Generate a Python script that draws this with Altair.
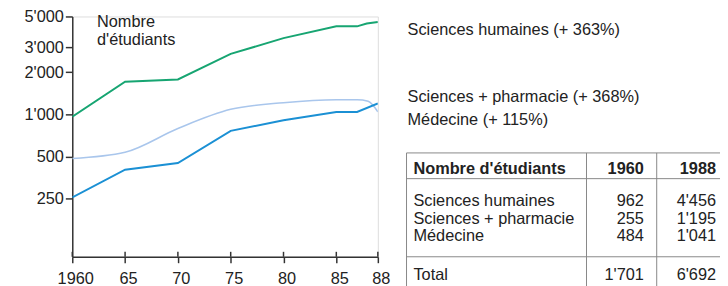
import altair as alt
import pandas as pd

# ---------------- data ----------------
series_names = ["Sciences humaines", "Sciences + pharmacie", "Médecine"]

sh_years = [1960, 1965, 1970, 1975, 1980, 1985, 1986.5, 1987.2, 1988]
sh_values = [962, 1710, 1775, 2700, 3500, 4250, 4250, 4450, 4560]

sp_years = [1960, 1965, 1970, 1975, 1980, 1985, 1986.5, 1988]
sp_values = [255, 402, 449, 762, 907, 1040, 1040, 1195]

med_years = [1960, 1965, 1970, 1975, 1980, 1985, 1986.5, 1987.3, 1988]
med_values = [484, 536, 792, 1085, 1210, 1270, 1270, 1240, 1041]

x_tick_values = [1960, 1965, 1970, 1975, 1980, 1985, 1988]
x_tick_labels = ["1960", "65", "70", "75", "80", "85", "88"]
y_tick_values = [250, 500, 1000, 2000, 3000, 5000]
y_tick_labels = ["250", "500", "1'000", "2'000", "3'000", "5'000"]

axis_title_lines = ["Nombre", "d'étudiants"]
right_labels = ["Sciences humaines (+ 363%)", "Sciences + pharmacie (+ 368%)", "Médecine (+ 115%)"]

table_header = ["Nombre d'étudiants", "1960", "1988"]
table_rows = ["Sciences humaines", "Sciences + pharmacie", "Médecine"]
table_1960 = ["962", "255", "484"]
table_1988 = ["4'456", "1'195", "1'041"]
table_total = ["Total", "1'701", "6'692"]

# ---------------- layout ----------------
W, H = 309, 243
FONT = "Liberation Sans"
FS = 16.5
TXT = "#222222"

colors = {"Sciences humaines": "#17a572", "Sciences + pharmacie": "#1b90d4", "Médecine": "#a9c6ec"}

x_scale = alt.Scale(domain=[1960, 1985, 1988], range=[0, 267, W], nice=False, zero=False)
y_scale = alt.Scale(type="log", domain=[96, 5000], nice=False, zero=False)

x_label_expr = " : ".join([f"datum.value == {v} ? '{l}'" for v, l in zip(x_tick_values, x_tick_labels)]) + " : ''"
y_label_expr = " : ".join([f"datum.value == {v} ? \"{l}\"" for v, l in zip(y_tick_values, y_tick_labels)]) + " : ''"


def line_df(name, years, values):
    return pd.DataFrame({"year": years, "value": values, "serie": name})


def line_layer(df, name, width, interp="linear"):
    return alt.Chart(df).mark_line(
        color=colors[name], strokeWidth=width, interpolate=interp, clip=True
    ).encode(
        x=alt.X("year:Q", scale=x_scale,
                axis=alt.Axis(values=x_tick_values, labelExpr=x_label_expr, title=None,
                              domainColor="#333333", domainWidth=1.5, tickColor="#333333",
                              tickWidth=1.5, tickSize=6, labelFontSize=FS, labelFont=FONT,
                              labelColor=TXT, labelPadding=8, labelOffset=3, grid=False,
                              labelFlush=False, labelOverlap=False)),
        y=alt.Y("value:Q", scale=y_scale,
                axis=alt.Axis(values=y_tick_values, labelExpr=y_label_expr, title=None,
                              domainColor="#333333", domainWidth=1.5, tickColor="#333333",
                              tickWidth=1.5, tickSize=7, labelFontSize=FS, labelFont=FONT,
                              labelColor=TXT, labelPadding=2, grid=False, labelFlush=False,
                              labelOverlap=False)),
    )


med = line_layer(line_df("Médecine", med_years, med_values), "Médecine", 1.6, "monotone")
sp = line_layer(line_df("Sciences + pharmacie", sp_years, sp_values), "Sciences + pharmacie", 2)
sh = line_layer(line_df("Sciences humaines", sh_years, sh_values), "Sciences humaines", 2)

# upward part of x ticks (they cross the axis)
tick_up = alt.Chart(pd.DataFrame({"year": x_tick_values})).mark_rule(
    color="#333333", strokeWidth=1.5
).encode(x=alt.X("year:Q", scale=x_scale), y=alt.value(H - 5), y2=alt.value(H))


def text_layer(texts, xs, ys, align="left", bold=False):
    layers = []
    for t, px, py in zip(texts, xs, ys):
        layers.append(
            alt.Chart(pd.DataFrame({"t": [t]})).mark_text(
                align=align, baseline="alphabetic", fontSize=FS, font=FONT, color=TXT,
                fontWeight="bold" if bold else "normal"
            ).encode(text="t:N", x=alt.value(float(px)), y=alt.value(float(py)))
        )
    return layers


OX, OY = 71, 15  # plot origin in page pixels
SHIFT = 2

layers = [med, sp, sh, tick_up]
layers += text_layer(axis_title_lines, [96 - OX] * 2, [25.5 - OY, 44 - OY])
layers += text_layer(right_labels, [410 - OX] * 3, [34 - OY, 101.5 - OY, 124.5 - OY])

# table
row_y = [206.5, 224.5, 242]
layers += text_layer([table_header[0]], [416 - OX], [174 - OY], bold=True)
layers += text_layer([table_header[1]], [649 - OX], [174 - OY], align="right", bold=True)
layers += text_layer([table_header[2]], [722 - OX], [174 - OY], align="right", bold=True)
layers += text_layer(table_rows, [416 - OX] * 3, [y - OY for y in row_y])
layers += text_layer(table_1960, [649 - OX] * 3, [y - OY for y in row_y], align="right")
layers += text_layer(table_1988, [722 - OX] * 3, [y - OY for y in row_y], align="right")
layers += text_layer([table_total[0]], [416 - OX], [281.5 - OY])
layers += text_layer([table_total[1]], [649 - OX], [281.5 - OY], align="right")
layers += text_layer([table_total[2]], [722 - OX], [281.5 - OY], align="right")

grid_col = "#888888"
hlines = [(409, 732, 153), (409, 732, 179), (409, 732, 258)]
vlines = [(409, 153, 290), (591, 153, 290), (662, 153, 290)]
for x1, x2, y in hlines:
    layers.append(alt.Chart(pd.DataFrame({"a": [0]})).mark_rule(color=grid_col, strokeWidth=1).encode(
        x=alt.value(x1 - OX), x2=alt.value(x2 - OX), y=alt.value(y - OY)))
for x, y1, y2 in vlines:
    layers.append(alt.Chart(pd.DataFrame({"a": [0]})).mark_rule(color=grid_col, strokeWidth=1).encode(
        x=alt.value(x - OX), y=alt.value(y1 - OY), y2=alt.value(y2 - OY)))

left_pad = OX - 8 + SHIFT
chart = alt.layer(*layers).properties(
    width=W, height=H,
    autosize=alt.AutoSizeParams(type="none"),
    padding={"left": left_pad, "top": OY - 8, "right": 720 - left_pad - W, "bottom": 278 - (OY - 8) - H},
).configure_view(stroke=None).configure(background="white")

chart.save("out.html", embed_options={"renderer": "svg", "actions": False})
